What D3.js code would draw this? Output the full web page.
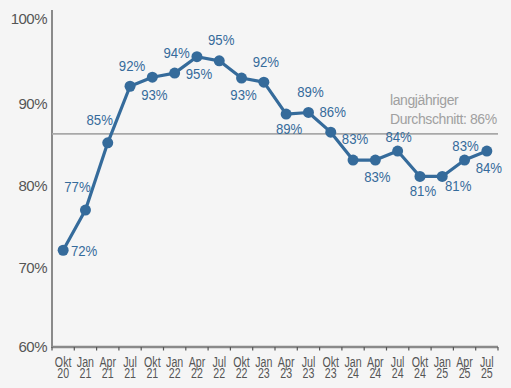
<!DOCTYPE html>
<html><head><meta charset="utf-8">
<script src="https://cdn.jsdelivr.net/npm/d3@7"></script>
<style>
html,body{margin:0;padding:0;background:#f5f5f5;}
svg{display:block;}
</style></head>
<body>
<svg id="chart" width="511" height="388"></svg>
<script>
const months = ["Okt","Jan","Apr","Jul","Okt","Jan","Apr","Jul","Okt","Jan","Apr","Jul","Okt","Jan","Apr","Jul","Okt","Jan","Apr","Jul"];
const years  = ["20","21","21","21","21","22","22","22","22","23","23","23","23","24","24","24","24","25","25","25"];
const values = [71.8,76.7,84.9,91.8,92.9,93.4,95.4,94.9,92.8,92.3,88.4,88.6,86.2,82.8,82.8,83.9,80.8,80.8,82.8,83.9];
const labels = ["72%","77%","85%","92%","93%","94%","95%","95%","93%","92%","89%","89%","86%","83%","83%","84%","81%","81%","83%","84%"];
const labelPlace = ["right","aboveLeft","aboveLeft","above","below","above","below","above","below","above","belowClose","above","above","above","below","aboveClose","belowClose","belowRight","aboveClose","below"];
const yTicks = [60,70,80,90,100];
const average = 86;
const avgText = ["langjähriger","Durchschnitt: 86%"];

const svg = d3.select("#chart");
const blue = "#356b9b";
const cats = months.map((m,i)=>m+" "+years[i]+"#"+i);

const x = d3.scaleBand().domain(cats).range([52,498]);
const y = d3.scaleLinear().domain([60,100]).range([347,19]);

// y axis line
svg.append("line").attr("x1",52).attr("x2",52).attr("y1",10).attr("y2",348)
  .attr("stroke","#8a8a8a").attr("stroke-width",2);

// y labels
svg.append("g").selectAll("text").data(yTicks).join("text")
  .attr("x",47).attr("y",d=>y(d)+ (d===60||d===100?0:3))
  .attr("dy","0.36em").attr("text-anchor","end")
  .attr("font-family","'Liberation Sans',Arial,sans-serif").attr("font-size",15)
  .attr("letter-spacing","-0.5").attr("fill","#555")
  .text(d=>d+"%");

// x axis
const xAxis = svg.append("g").attr("transform","translate(0,347)");
xAxis.append("line").attr("x1",52).attr("x2",498).attr("stroke","#8a8a8a").attr("stroke-width",2.5);
const tickPos = cats.map(c=>x(c)).concat([x.range()[1]]);
xAxis.selectAll("line.t").data(tickPos).join("line").attr("class","t")
  .attr("x1",d=>d).attr("x2",d=>d).attr("y1",0).attr("y2",3.5)
  .attr("stroke","#555").attr("stroke-width",1.2);
const xt = xAxis.selectAll("text.xl").data(cats).join("text").attr("class","xl")
  .attr("text-anchor","middle")
  .attr("font-family","'Liberation Sans',Arial,sans-serif")
  .attr("font-size",14).attr("fill","#555");
xt.append("tspan").attr("x",d=>x(d)+x.bandwidth()/2).attr("y",20).text((d,i)=>months[i]);
xt.append("tspan").attr("x",d=>x(d)+x.bandwidth()/2).attr("y",31).text((d,i)=>years[i]);
xt.selectAll("tspan").each(function(){
  const w = this.getComputedTextLength();
  d3.select(this).attr("textLength", w*0.76).attr("lengthAdjust","spacingAndGlyphs");
});

// average line
svg.append("line").attr("x1",52).attr("x2",498).attr("y1",y(average)).attr("y2",y(average))
  .attr("stroke","#a8a8a8").attr("stroke-width",1.8);
svg.append("g").selectAll("text").data(avgText).join("text")
  .attr("x",390).attr("y",(d,i)=>105+i*19)
  .attr("font-family","'Liberation Sans',Arial,sans-serif").attr("font-size",14)
  .attr("letter-spacing","-0.4").attr("fill","#a0a0a0").text(d=>d);

// line
const cx = i => x(cats[i]) + x.bandwidth()/2;
svg.append("path").datum(values)
  .attr("d", d3.line().x((d,i)=>cx(i)).y(d=>y(d)))
  .attr("fill","none").attr("stroke",blue).attr("stroke-width",3.2).attr("stroke-linejoin","round");
svg.append("g").selectAll("circle").data(values).join("circle")
  .attr("cx",(d,i)=>cx(i)).attr("cy",d=>y(d)).attr("r",5.5).attr("fill",blue);

// value labels
const off = {right:[21,0], aboveLeft:[-8,-23], above:[2,-21], aboveClose:[1,-14],
             below:[2,17], belowClose:[3,14], belowRight:[16,9]};
svg.append("g").selectAll("text").data(values).join("text")
  .attr("x",(d,i)=>cx(i)+off[labelPlace[i]][0])
  .attr("y",(d,i)=>y(d)+off[labelPlace[i]][1])
  .attr("dy","0.36em").attr("text-anchor","middle")
  .attr("font-family","'Liberation Sans',Arial,sans-serif").attr("font-size",15)
  .attr("fill",blue)
  .text((d,i)=>labels[i])
  .each(function(){
    const w = this.getComputedTextLength();
    d3.select(this).attr("textLength", w*0.88).attr("lengthAdjust","spacingAndGlyphs");
  });
</script>
</body></html>
